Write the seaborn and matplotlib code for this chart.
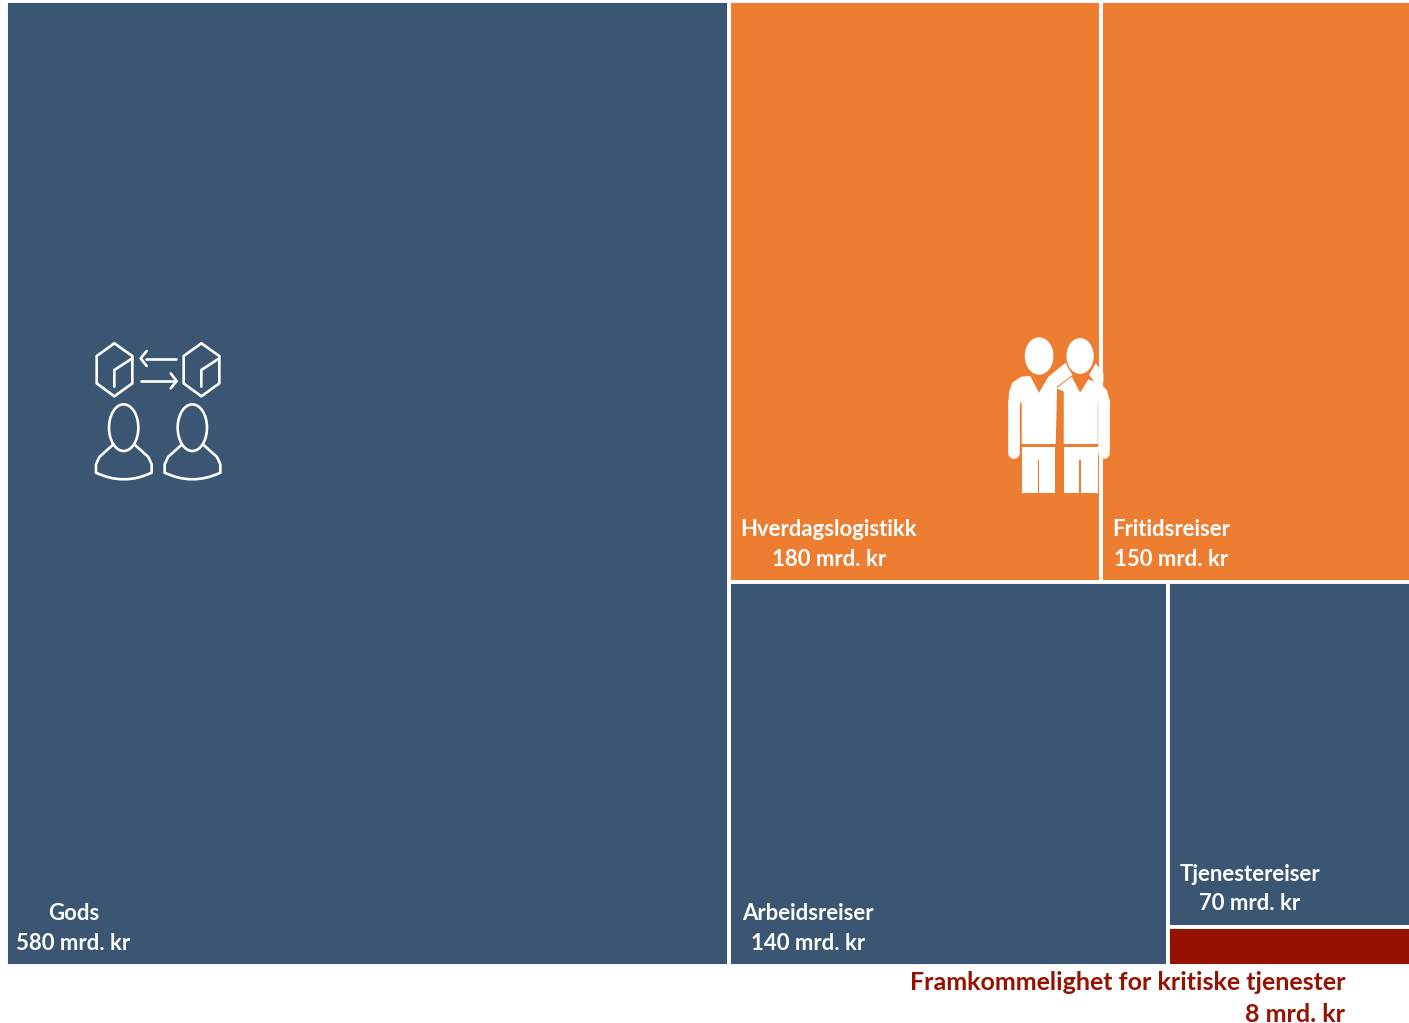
import matplotlib
matplotlib.use("Agg")
import matplotlib.pyplot as plt
from matplotlib.patches import Ellipse, Polygon, PathPatch
from matplotlib.path import Path
import seaborn as sns

# Socio-economic value per user group, billion NOK
categories = ["Gods", "Hverdagslogistikk", "Fritidsreiser", "Arbeidsreiser",
              "Tjenestereiser", "Framkommelighet for kritiske tjenester"]
values = [580, 180, 150, 140, 70, 8]
value_labels = ["580 mrd. kr", "180 mrd. kr", "150 mrd. kr", "140 mrd. kr",
                "70 mrd. kr", "8 mrd. kr"]

NAVY, ORANGE, RED = "#3A5672", "#ED7D31", "#951200"
cell_colors = [NAVY, ORANGE, ORANGE, NAVY, NAVY, RED]

sns.set_theme(style="white")
plt.rcParams["font.family"] = ["Lato", "DejaVu Sans"]

W, H = 1409, 1023
fig = plt.figure(figsize=(W / 100, H / 100), dpi=100, facecolor="white")

# Plot area in pixels; half a gap lies outside the visible cells
PX_L, PX_R, PX_T, PX_B = 5.5, 1412, 1, 966
ax = fig.add_axes([PX_L / W, 1 - PX_B / H, (PX_R - PX_L) / W, (PX_B - PX_T) / H])

# Slice-and-dice treemap: area of each cell is proportional to its value
v_gods, v_hverdag, v_fritid, v_arbeid, v_tjeneste, v_kritisk = values
total = sum(values)
rest = total - v_gods
x_split = v_gods / total
top_row = v_hverdag + v_fritid
bot_row = rest - top_row
top_h = top_row / rest
x_top = x_split + (1 - x_split) * v_hverdag / top_row
x_bot = x_split + (1 - x_split) * v_arbeid / bot_row
red_h = (1 - top_h) * v_kritisk / (v_tjeneste + v_kritisk)

# (x, y, width, height) with y measured upwards
cells = [
    (0, 0, x_split, 1),
    (x_split, 1 - top_h, x_top - x_split, top_h),
    (x_top, 1 - top_h, 1 - x_top, top_h),
    (x_split, 0, x_bot - x_split, 1 - top_h),
    (x_bot, red_h, 1 - x_bot, 1 - top_h - red_h),
    (x_bot, 0, 1 - x_bot, red_h),
]
for (x, y, w, h), c in zip(cells, cell_colors):
    ax.bar(x, h, width=w, bottom=y, align="edge", color=c,
           edgecolor="white", linewidth=2.8)
ax.set_xlim(0, 1)
ax.set_ylim(0, 1)
ax.set_xticks([])
ax.set_yticks([])
sns.despine(ax=ax, left=True, bottom=True)

FS = 15.9
FS_NOTE = 18
LEAD = 29.5


def cell_label(i, dx, dy):
    """Two centred lines, offset in pixels from the cell's lower-left corner."""
    x, y = cells[i][:2]
    to_pt = 72 / 100
    for txt, off in ((categories[i], dy + LEAD), (value_labels[i], dy)):
        ax.annotate(txt, (x, y), xytext=(dx * to_pt, off * to_pt),
                    textcoords="offset points", ha="center", va="center",
                    color="white", fontsize=FS, fontweight="bold")


cell_label(0, 68, 23)
cell_label(1, 100, 23)
cell_label(2, 70, 23)
cell_label(3, 79, 23)
cell_label(4, 82, 23)

# Pixel-space overlay for the pictograms and the label under the chart
ov = fig.add_axes([0, 0, 1, 1], facecolor="none")
ov.set_xlim(0, W)
ov.set_ylim(H, 0)
ov.axis("off")

ov.text(1345, 983, categories[5], ha="right", va="center", color=RED,
        fontsize=FS_NOTE, fontweight="bold")
ov.text(1345, 1014, value_labels[5], ha="right", va="center", color=RED,
        fontsize=FS_NOTE, fontweight="bold")


def grid(points, ox, oy):
    return [(ox + px / 3, oy + py / 3) for px, py in points]


# Goods exchange pictogram
OX, OY = 70, 321
LW = 1.9
line_kw = dict(color="white", lw=LW, solid_capstyle="round", solid_joinstyle="round")


def stroke(points):
    xs, ys = zip(*grid(points, OX, OY))
    ov.plot(xs, ys, **line_kw)


for s in (0, 261):
    stroke([(133 + s, 67), (187 + s, 105), (187 + s, 187), (133 + s, 226),
            (80 + s, 187), (80 + s, 105), (133 + s, 67)])
    stroke([(187 + s, 112), (133 + s, 147), (133 + s, 197)])
stroke([(228, 114), (318, 114)])
stroke([(230, 90), (212, 112), (230, 135)])
stroke([(212, 180), (318, 180)])
stroke([(302, 157), (320, 180), (302, 202)])

for s in (0, 206):
    cx, cy = grid([(161 + s, 320)], OX, OY)[0]
    ov.add_patch(Ellipse((cx, cy), 88 / 3, 140 / 3, fc="none", ec="white", lw=LW))
    stroke([(128 + s, 372), (88 + s, 408), (78 + s, 430), (78 + s, 455)])
    stroke([(195 + s, 372), (235 + s, 408), (245 + s, 430), (245 + s, 455)])
    p = grid([(78 + s, 455), (161 + s, 495), (245 + s, 455)], OX, OY)
    ov.add_patch(PathPatch(Path(p, [Path.MOVETO, Path.CURVE3, Path.CURVE3]),
                           fc="none", ec="white", lw=LW, capstyle="round"))

# Two people pictogram, placed against the divider between the orange cells
divider_px = PX_L + x_top * (PX_R - PX_L)
PX, PY = divider_px - 1113 + 1000, 320


def fill(points, color="white", z=3):
    ov.add_patch(Polygon(grid(points, PX, PY), closed=True, fc=color, ec="none", zorder=z))


def rounded_arm(x, y0, y1):
    pts = grid([(x, y0), (x, y1)], PX, PY)
    ov.plot(*zip(*pts), color="white", lw=8.4, solid_capstyle="round", zorder=3)


# Left figure
fill([(60, 250), (62, 215), (72, 188), (98, 170), (125, 168), (152, 218),
      (180, 170), (232, 128), (252, 165), (206, 200), (202, 372), (100, 372),
      (100, 248), (95, 248), (95, 260), (60, 260)])
rounded_arm(77, 250, 398)
fill([(100, 380), (201, 380), (201, 518), (153, 518), (153, 420), (148, 420),
      (148, 518), (100, 518)])
# Right figure
fill([(205, 205), (250, 170), (275, 218), (300, 178), (335, 190), (355, 210),
      (365, 245), (365, 262), (330, 262), (330, 248), (328, 248), (328, 372),
      (226, 372), (226, 215)])
rounded_arm(348, 250, 398)
fill([(226, 380), (328, 380), (328, 518), (278, 518), (278, 420), (272, 420),
      (272, 518), (226, 518)])
# Hand resting on the shoulder
fill([(322, 130), (345, 160), (345, 186), (322, 190), (302, 165)])
# Heads
ov.add_patch(Ellipse(grid([(152, 108)], PX, PY)[0], 86 / 3, 112 / 3, fc="white", ec="none", zorder=3))
ov.add_patch(Ellipse(grid([(275, 108)], PX, PY)[0], 86 / 3, 112 / 3, fc="white",
                     ec=ORANGE, lw=1.0, zorder=4))

fig.savefig("out.png", dpi=100)
